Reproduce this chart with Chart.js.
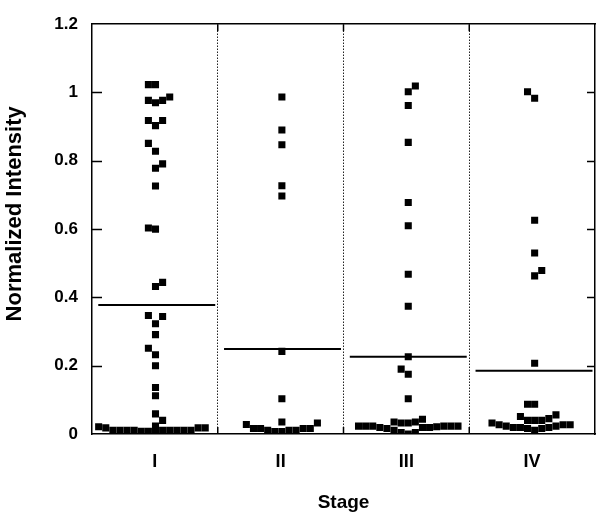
<!DOCTYPE html>
<html>
<head>
<meta charset="utf-8">
<script src="https://cdn.jsdelivr.net/npm/chart.js@4/dist/chart.umd.min.js"></script>
<style>
  html, body { margin: 0; padding: 0; background: #fff; }
  #wrap { width: 600px; height: 519px; }
</style>
</head>
<body>
<div id="wrap"><canvas id="stageChart" width="600" height="519"></canvas></div>
<script>
// categories and tick labels
const stages = ['I', 'II', 'III', 'IV'];
const yTicks = [0, 0.2, 0.4, 0.6, 0.8, 1.0, 1.2];

// each point: [column offset in the swarm, normalized intensity]
const stageI = [
    [-1, 1.023], [0, 1.023],
    [-1, 0.977], [0, 0.970], [1, 0.977], [2, 0.987],
    [-1, 0.918], [0, 0.903], [1, 0.918],
    [-1, 0.851], [0, 0.828], [1, 0.791], [0, 0.778], [0, 0.726],
    [-1, 0.603], [0, 0.600],
    [0, 0.432], [1, 0.444],
    [-1, 0.347], [0, 0.323], [1, 0.344], [0, 0.291],
    [-1, 0.251], [0, 0.232], [0, 0.200],
    [0, 0.136], [0, 0.112], [0, 0.059], [1, 0.040], [0, 0.023],
    [-8, 0.021], [-7, 0.018], [-6, 0.011], [-5, 0.011], [-4, 0.011], [-3, 0.011],
    [-2, 0.008], [-1, 0.008], [0, 0.006], [1, 0.011], [2, 0.011], [3, 0.011],
    [4, 0.011], [5, 0.011], [6, 0.018], [7, 0.018]
];
const stageII = [
    [0, 0.987], [0, 0.890], [0, 0.847], [0, 0.727], [0, 0.697],
    [0, 0.242], [0, 0.103], [0, 0.035],
    [-5, 0.028], [-4, 0.016], [-3, 0.016], [-2, 0.011], [-1, 0.007], [0, 0.007],
    [1, 0.011], [2, 0.011], [3, 0.016], [4, 0.016], [5, 0.032]
];
const stageIII = [
    [1, 1.019], [0, 1.002], [0, 0.962], [0, 0.854], [0, 0.678], [0, 0.610],
    [0, 0.468], [0, 0.374], [0, 0.226], [-1, 0.190], [0, 0.175], [0, 0.103],
    [-2, 0.035], [-1, 0.032], [0, 0.032], [1, 0.035], [2, 0.043],
    [-7, 0.023], [-6, 0.023], [-5, 0.023], [-4, 0.019], [-3, 0.016], [-2, 0.011],
    [-1, 0.004], [0, 0.000], [1, 0.004], [2, 0.019], [3, 0.019], [4, 0.021],
    [5, 0.023], [6, 0.023], [7, 0.023]
];
const stageIV = [
    [-1, 1.002], [0, 0.983], [0, 0.626], [0, 0.530], [0, 0.463], [1, 0.479],
    [0, 0.207], [-1, 0.087], [0, 0.087],
    [-2, 0.051], [-1, 0.040], [0, 0.040], [1, 0.040], [2, 0.045], [3, 0.056],
    [-6, 0.032], [-5, 0.027], [-4, 0.023], [-3, 0.019], [-2, 0.019], [-1, 0.016],
    [0, 0.011], [1, 0.016], [2, 0.019], [3, 0.023], [4, 0.027], [5, 0.027]
];
const means = [0.378, 0.249, 0.226, 0.185];

const FONT = "'Liberation Sans', Arial, sans-serif";
const COL_STEP = 0.0565; // swarm column width in stage units

const groups = [stageI, stageII, stageIII, stageIV];

const datasets = [];
groups.forEach((pts, i) => {
    datasets.push({
        data: pts.map(p => ({ x: i + 0.505 + 0.005 * i + p[0] * COL_STEP, y: p[1] })),
        pointStyle: 'rect',
        pointRadius: 5,
        pointBorderWidth: 0,
        backgroundColor: '#000',
        borderColor: '#000',
        showLine: false
    });
});
means.forEach((m, i) => {
    datasets.push({
        data: [{ x: i + 0.05, y: m }, { x: i + 0.98, y: m }],
        showLine: true,
        borderColor: '#000',
        borderWidth: 2,
        pointRadius: 0
    });
});

// inward tick marks on left/right axes and at the stage dividers
const innerTicks = {
    id: 'innerTicks',
    afterDraw(chart) {
        const ctx = chart.ctx;
        const area = chart.chartArea;
        const y = chart.scales.y;
        const xt = chart.scales.xTop;
        ctx.save();
        ctx.strokeStyle = '#000';
        ctx.lineWidth = 1.5;
        ctx.beginPath();
        yTicks.forEach(v => {
            if (v === 0 || v === 1.2) return;
            const py = Math.round(y.getPixelForValue(v)) + 0.5;
            ctx.moveTo(area.left, py);
            ctx.lineTo(area.left + 10, py);
            ctx.moveTo(area.right - 8, py);
            ctx.lineTo(area.right, py);
        });
        [1, 2, 3].forEach(v => {
            const px = xt.getPixelForValue(v);
            ctx.moveTo(px, area.top);
            ctx.lineTo(px, area.top + 7);
            ctx.moveTo(px, area.bottom);
            ctx.lineTo(px, area.bottom - 7);
        });
        ctx.stroke();
        ctx.restore();
    }
};

new Chart(document.getElementById('stageChart'), {
    type: 'scatter',
    data: { datasets: datasets },
    options: {
        responsive: false,
        animation: false,
        layout: { padding: { left: 0, top: 12, right: 5, bottom: 0 } },
        plugins: {
            legend: { display: false },
            tooltip: { enabled: false }
        },
        scales: {
            x: {
                type: 'linear',
                position: 'bottom',
                min: 0,
                max: 4,
                afterBuildTicks: (scale) => {
                    scale.ticks = stages.map((s, i) => ({ value: i + 0.5 }));
                },
                afterFit: (scale) => { scale.height = 85; },
                grid: { display: false, drawTicks: false },
                border: { display: true, color: '#000', width: 1.5 },
                ticks: {
                    padding: 17,
                    color: '#000',
                    font: { family: FONT, size: 18, weight: 'bold' },
                    callback: (v) => stages[Math.floor(v)]
                },
                title: {
                    display: true,
                    text: 'Stage',
                    color: '#000',
                    font: { family: FONT, size: 19, weight: 'bold' },
                    padding: { top: 0, bottom: 5 }
                }
            },
            xTop: {
                type: 'linear',
                position: 'top',
                min: 0,
                max: 4,
                afterBuildTicks: (scale) => {
                    scale.ticks = [1, 2, 3].map(v => ({ value: v }));
                },
                afterFit: (scale) => { scale.height = 0; },
                ticks: { display: false },
                grid: { display: true, drawTicks: false, color: '#222', lineWidth: 1 },
                border: { display: true, color: '#000', width: 1.5, dash: [1.5, 1.5] }
            },
            y: {
                type: 'linear',
                position: 'left',
                min: 0,
                max: 1.2,
                afterBuildTicks: (scale) => {
                    scale.ticks = yTicks.map(v => ({ value: v }));
                },
                afterFit: (scale) => { scale.width = 92; },
                grid: { display: false, drawTicks: false },
                border: { display: true, color: '#000', width: 1.5 },
                ticks: {
                    padding: 14,
                    color: '#000',
                    font: { family: FONT, size: 17, weight: 'bold' },
                    callback: (v) => String(parseFloat(v.toFixed(1)))
                },
                title: {
                    display: true,
                    text: '     Normalized Intensity',
                    color: '#000',
                    font: { family: FONT, size: 22, weight: 'bold' },
                    padding: { top: 2, bottom: 0 }
                }
            },
            yRight: {
                type: 'linear',
                position: 'right',
                min: 0,
                max: 1.2,
                afterFit: (scale) => { scale.width = 0; },
                ticks: { display: false },
                grid: { display: false, drawTicks: false },
                border: { display: true, color: '#000', width: 1.5 }
            }
        }
    },
    plugins: [innerTicks]
});
</script>
</body>
</html>
